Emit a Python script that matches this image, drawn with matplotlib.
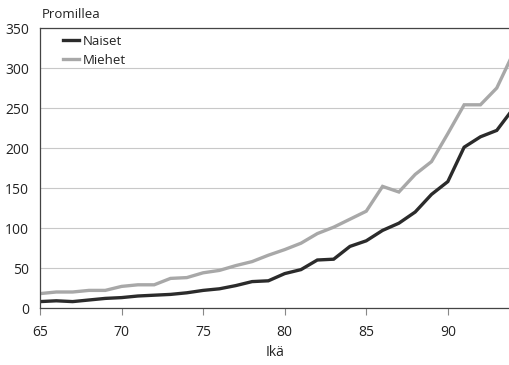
import matplotlib
matplotlib.use("Agg")
import matplotlib.pyplot as plt

ages = list(range(65, 95))
naiset = [8, 9, 8, 10, 12, 13, 15, 16, 17, 19, 22, 24, 28, 33, 34, 43, 48, 60, 61, 77,
          84, 97, 106, 120, 142, 158, 201, 214, 222, 249]
miehet = [18, 20, 20, 22, 22, 27, 29, 29, 37, 38, 44, 47, 53, 58, 66, 73, 81, 93, 101, 111,
          121, 152, 145, 167, 183, 218, 254, 254, 275, 318]
xticks = [65, 70, 75, 80, 85, 90]
yticks = [0, 50, 100, 150, 200, 250, 300, 350]

plt.rcParams['font.family'] = ['Open Sans', 'DejaVu Sans']

fig = plt.figure(figsize=(5.09, 3.65), dpi=100)
ax = fig.add_axes([40/509, 1-308/365, 1-40/509, 280/365])

ax.plot(ages, naiset, color='#2b2b2b', lw=2.4, label='Naiset', solid_joinstyle='miter')
ax.plot(ages, miehet, color='#a8a8a8', lw=2.4, label='Miehet', solid_joinstyle='miter')

ax.set_xlim(65, 93.75)
ax.set_ylim(0, 350)
ax.set_xticks(xticks)
ax.set_yticks(yticks)
ax.grid(axis='y', color='#c8c8c8', lw=0.8)
ax.set_axisbelow(True)
for s in ['left', 'bottom', 'top']:
    ax.spines[s].set_color('#444444')
    ax.spines[s].set_linewidth(0.9)
ax.spines['right'].set_visible(False)
ax.tick_params(axis='y', length=0, pad=8, labelsize=10, colors='#222222')
ax.tick_params(axis='x', length=5, width=0.8, color='#888888', pad=7, labelsize=10, labelcolor='#222222')

fig.text(275/509, 1-352/365, 'Ikä', fontsize=10, color='#222222', ha='center', va='center')
fig.text(42/509, 1-15/365, 'Promillea', fontsize=9.5, color='#222222', ha='left', va='center')

leg = ax.legend(loc='upper left', frameon=False, fontsize=9.5, handlelength=1.2,
                handletextpad=0.3, labelspacing=0.45, bbox_to_anchor=(0.035, 1.0),
                borderaxespad=0.1)
for t in leg.get_texts():
    t.set_color('#222222')

fig.savefig('out.png', dpi=100)
